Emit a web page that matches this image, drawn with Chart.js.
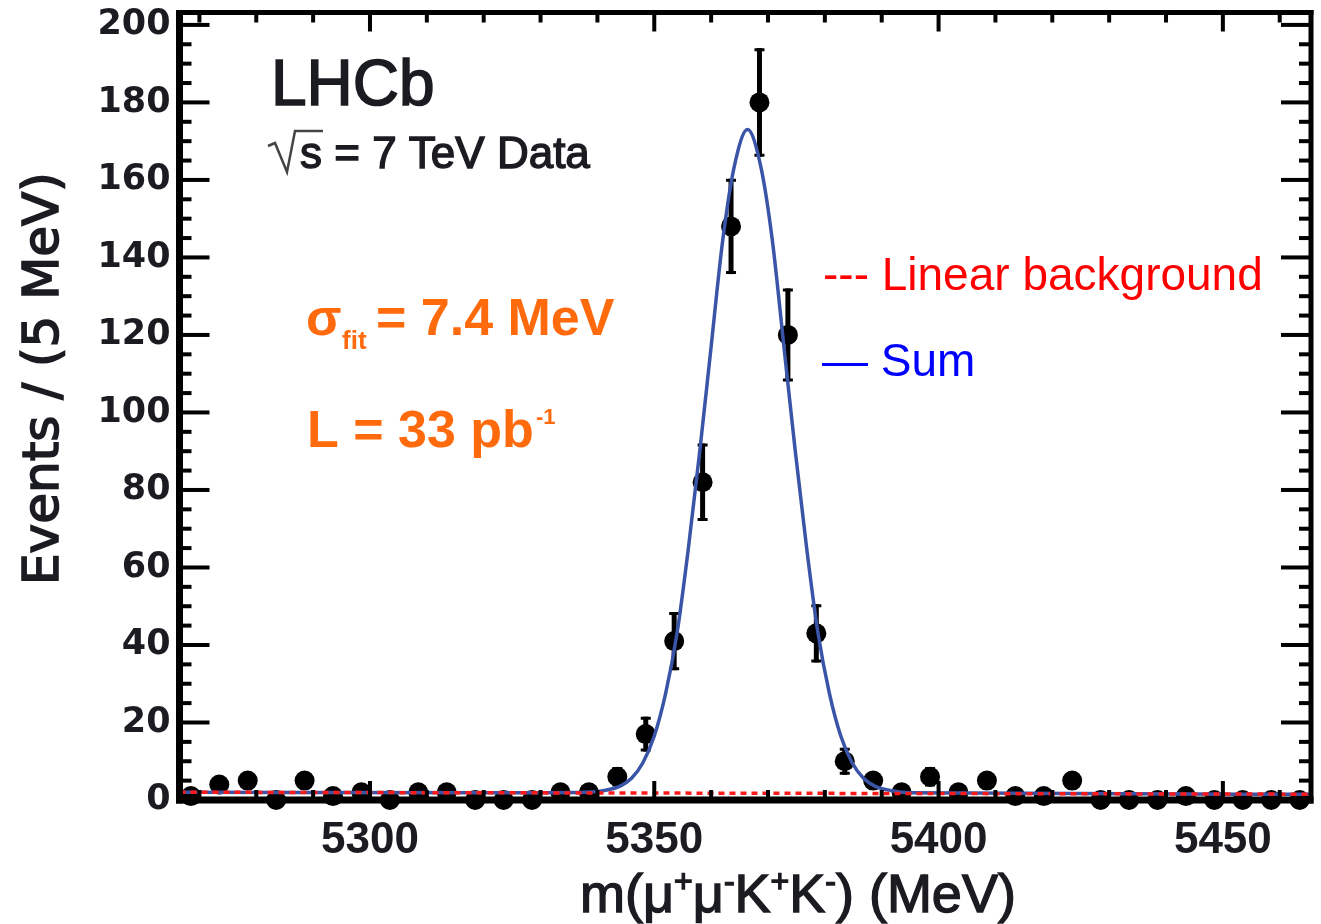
<!DOCTYPE html>
<html>
<head>
<meta charset="utf-8">
<script src="https://cdn.jsdelivr.net/npm/chart.js@4.4.1/dist/chart.umd.min.js"></script>
<style>
  html, body { margin: 0; padding: 0; background: #fff; }
</style>
</head>
<body>
<canvas id="massChart" width="1321" height="924"></canvas>
<script>
// 5 MeV bins, centres in MeV
const binCentres = [5268.5, 5273.5, 5278.5, 5283.5, 5288.5, 5293.5, 5298.5, 5303.5, 5308.5, 5313.5,
                    5318.5, 5323.5, 5328.5, 5333.5, 5338.5, 5343.5, 5348.5, 5353.5, 5358.5, 5363.5,
                    5368.5, 5373.5, 5378.5, 5383.5, 5388.5, 5393.5, 5398.5, 5403.5, 5408.5, 5413.5,
                    5418.5, 5423.5, 5428.5, 5433.5, 5438.5, 5443.5, 5448.5, 5453.5, 5458.5, 5463.5];
const counts = [1, 4, 5, 0, 5, 1, 2, 0, 2, 2,
                0, 0, 0, 2, 2, 6, 17, 41, 82, 148,
                180, 120, 43, 10, 5, 2, 6, 2, 5, 1,
                1, 5, 0, 0, 0, 1, 0, 0, 0, 0];
const countErrors = [1, 2, 2.2, 0, 2.2, 1, 1.4, 0, 1.4, 1.4,
                     0, 0, 0, 1.4, 1.4, 2.5, 4.5, 7.5, 10, 12.3,
                     14, 12, 7.5, 3.5, 2.2, 1.4, 2.5, 1.4, 2.2, 1,
                     1, 2.2, 0, 0, 0, 1, 0, 0, 0, 0];

// fitted sum curve
const sumMass = [5266.5, 5330, 5338, 5341, 5344, 5346, 5348, 5350, 5352, 5354, 5356, 5358, 5360, 5362, 5364,
                 5366.4, 5368.8, 5370.8, 5372.8, 5374.8, 5376.8, 5378.8, 5380.8, 5382.8, 5384.8, 5386.8,
                 5388.8, 5391.8, 5395, 5465.5];
const sumValues = [2.0, 1.9, 2.0, 2.4, 3.6, 5.6, 9.6, 16.5, 27.5, 43, 65, 90, 117, 144, 163,
                   173, 163, 144, 117, 90, 65, 43, 27.5, 16.5, 9.6, 5.6,
                   3.6, 2.4, 1.9, 1.5];

// linear background
const bkgMass = [5266.5, 5465.5];
const bkgValues = [2.0, 1.5];

const xTickValues = [5300, 5350, 5400, 5450];
const yTickValues = [0, 20, 40, 60, 80, 100, 120, 140, 160, 180, 200];

const ink = '#1b1b22';

function toXY(xs, ys) {
  return xs.map((v, i) => ({ x: v, y: ys[i] }));
}

// fill plus a thin stroke, the reference text is a bit heavier than plain regular
function heavyText(ctx, text, x, y, w) {
  ctx.fillText(text, x, y);
  ctx.lineWidth = w;
  ctx.strokeStyle = ctx.fillStyle;
  ctx.strokeText(text, x, y);
}

const framePlugin = {
  id: 'framePlugin',
  beforeDatasetsDraw(chart) {
    // error bars under everything
    const { ctx, scales: { x, y } } = chart;
    ctx.save();
    ctx.strokeStyle = '#000';
    binCentres.forEach((m, i) => {
      const e = countErrors[i];
      if (!e) return;
      const px = x.getPixelForValue(m);
      const top = y.getPixelForValue(counts[i] + e);
      const bot = y.getPixelForValue(Math.max(counts[i] - e, 0));
      ctx.lineWidth = 5;
      ctx.beginPath();
      ctx.moveTo(px, top);
      ctx.lineTo(px, bot);
      ctx.stroke();
      ctx.lineWidth = 3;
      ctx.beginPath();
      ctx.moveTo(px - 5, top + 1.5); ctx.lineTo(px + 5, top + 1.5);
      ctx.moveTo(px - 5, bot - 1.5); ctx.lineTo(px + 5, bot - 1.5);
      ctx.stroke();
    });
    ctx.restore();
  },
  afterDatasetsDraw(chart) {
    const { ctx, chartArea: a, scales: { x, y } } = chart;
    ctx.save();
    ctx.fillStyle = '#000';
    // frame
    ctx.fillRect(a.left - 3.5, a.top - 2.5, 7, a.bottom - a.top + 6);
    ctx.fillRect(a.right - 2.5, a.top - 2.5, 5, a.bottom - a.top + 6);
    ctx.fillRect(a.left - 3.5, a.top - 2.5, a.right - a.left + 6, 5);
    ctx.fillRect(a.left - 3.5, a.bottom - 3.5, a.right - a.left + 6, 7);

    // y ticks, left and right
    for (let v = 0; v <= 200; v += 5) {
      const py = y.getPixelForValue(v);
      const len = v % 20 === 0 ? 30 : 12;
      ctx.fillRect(a.left, py - 2, len, 4);
      ctx.fillRect(a.right - len, py - 2, len, 4);
    }
    // x ticks, bottom and top
    for (let v = 5270; v <= 5460; v += 10) {
      const px = x.getPixelForValue(v);
      const len = v % 50 === 0 ? 19 : 10;
      ctx.fillRect(px - 2, a.bottom - len, 4, len);
      ctx.fillRect(px - 2, a.top, 4, len);
    }
    ctx.restore();
  },
  afterDraw(chart) {
    const { ctx } = chart;
    ctx.save();
    ctx.textBaseline = 'alphabetic';
    ctx.textAlign = 'left';

    // LHCb label
    ctx.fillStyle = ink;
    ctx.font = '64px "Liberation Sans"';
    heavyText(ctx, 'LHCb', 271, 105, 1.6);
    ctx.font = '44px "Liberation Sans"';
    heavyText(ctx, 's = 7 TeV Data', 300, 168, 1.4);
    // square root sign
    ctx.strokeStyle = '#444';
    ctx.lineWidth = 2.5;
    ctx.beginPath();
    ctx.moveTo(268, 146);
    ctx.lineTo(275, 143);
    ctx.lineTo(287, 172);
    ctx.lineTo(295, 131);
    ctx.lineTo(323, 131);
    ctx.stroke();

    // orange fit info
    ctx.fillStyle = '#ff6a0d';
    ctx.font = 'bold 52px "Liberation Sans"';
    ctx.fillText('\u03c3', 306, 335);
    ctx.font = 'bold 26px "Liberation Sans"';
    ctx.fillText('fit', 342, 349);
    ctx.font = 'bold 52px "Liberation Sans"';
    ctx.fillText('= 7.4 MeV', 376, 335);
    ctx.fillText('L = 33 pb', 307, 447);
    ctx.font = 'bold 22px "Liberation Sans"';
    ctx.fillText('-1', 536, 424);

    // legend
    ctx.font = '46px "Liberation Sans"';
    ctx.fillStyle = '#ff0000';
    ctx.fillText('--- Linear background', 823, 290);
    ctx.fillStyle = '#0000ff';
    ctx.fillText('\u2014 Sum', 822, 376);

    // y axis title
    ctx.save();
    ctx.translate(58, 585);
    ctx.rotate(-Math.PI / 2);
    ctx.fillStyle = ink;
    ctx.font = '50px "DejaVu Sans"';
    heavyText(ctx, 'Events / (5 MeV)', 0, 0, 1.6);
    ctx.restore();

    // x axis title with superscripts
    ctx.fillStyle = ink;
    const base = 912;
    const big = '54px "Liberation Sans"';
    const sup = '32px "Liberation Sans"';
    const parts = [['m(\u03bc', big, 0], ['+', sup, -20], ['\u03bc', big, 0], ['-', sup, -20],
                   ['K', big, 0], ['+', sup, -20], ['K', big, 0], ['-', sup, -20], [') (MeV)', big, 0]];
    let cx = 580;
    parts.forEach(([t, f, dy]) => {
      ctx.font = f;
      heavyText(ctx, t, cx, base + dy, 1.4);
      cx += ctx.measureText(t).width;
    });
    ctx.restore();
  }
};

const ctx = document.getElementById('massChart').getContext('2d');
new Chart(ctx, {
  type: 'scatter',
  data: {
    datasets: [
      {
        label: 'Linear background',
        type: 'line',
        data: toXY(bkgMass, bkgValues),
        borderColor: '#ff1a1a',
        borderWidth: 3.5,
        borderDash: [6, 5],
        pointRadius: 0,
        fill: false
      },
      {
        label: 'Sum',
        type: 'line',
        data: toXY(sumMass, sumValues),
        borderColor: '#3a54a8',
        borderWidth: 3.5,
        pointRadius: 0,
        cubicInterpolationMode: 'monotone',
        fill: false
      },
      {
        label: 'Data',
        data: toXY(binCentres, counts),
        backgroundColor: '#000',
        borderColor: '#000',
        pointRadius: 10,
        borderWidth: 0,
        clip: false
      }
    ]
  },
  options: {
    responsive: false,
    animation: false,
    layout: { padding: { top: 12.5, right: 8.5, left: 0, bottom: 0 } },
    plugins: { legend: { display: false }, tooltip: { enabled: false } },
    scales: {
      x: {
        type: 'linear',
        min: 5266.5,
        max: 5465.5,
        afterBuildTicks: s => { s.ticks = xTickValues.map(v => ({ value: v })); },
        afterFit: s => { s.height = 124; s.paddingLeft = 0; s.paddingRight = 0; },
        grid: { display: false, drawTicks: false },
        border: { display: false },
        ticks: {
          padding: 14,
          autoSkip: false,
          maxRotation: 0,
          color: ink,
          callback: v => String(v),
          font: { family: 'Liberation Sans', size: 44, weight: 'bold' }
        }
      },
      y: {
        min: 0,
        max: 203.2,
        afterBuildTicks: s => { s.ticks = yTickValues.map(v => ({ value: v })); },
        afterFit: s => { s.width = 179.5; s.paddingTop = 0; s.paddingBottom = 0; },
        grid: { display: false, drawTicks: false },
        border: { display: false },
        ticks: {
          padding: 9,
          color: ink,
          callback: v => String(v),
          font: { family: 'DejaVu Sans', size: 35, weight: 'bold' }
        }
      }
    }
  },
  plugins: [framePlugin]
});
</script>
</body>
</html>
